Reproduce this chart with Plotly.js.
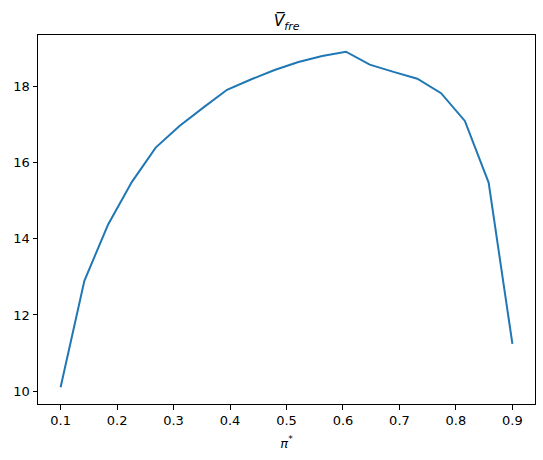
<!DOCTYPE html>
<html>
<head>
<meta charset="utf-8">
<script src="https://cdn.plot.ly/plotly-3.0.1.min.js"></script>
<style>
  html, body { margin: 0; padding: 0; background: #ffffff; }
  #chart { width: 543px; height: 460px; }
</style>
</head>
<body>
<div id="chart"></div>
<script>
  "use strict";

  // pi* values along the x axis
  var PI_STAR = [
    0.1, 0.1421, 0.1842, 0.2263, 0.2684, 0.3105, 0.3526, 0.3947, 0.4368, 0.4789,
    0.5211, 0.5632, 0.6053, 0.6474, 0.6895, 0.7316, 0.7737, 0.8158, 0.8579, 0.9
  ];

  // mean V_fre
  var V_FRE = [
    10.1, 12.9, 14.38, 15.5, 16.4, 16.97, 17.45, 17.92, 18.19, 18.44,
    18.65, 18.81, 18.92, 18.58, 18.39, 18.21, 17.83, 17.1, 15.48, 11.24
  ];

  var X_TICKS = [0.1, 0.2, 0.3, 0.4, 0.5, 0.6, 0.7, 0.8, 0.9];
  var Y_TICKS = [10, 12, 14, 16, 18];

  var FONT = 'DejaVu Sans, sans-serif';
  var LINE_COLOR = "#1f77b4";

  function axisBase() {
    return {
      showgrid: false,
      zeroline: false,
      showline: true,
      linecolor: "#000000",
      linewidth: 1,
      mirror: true,
      ticks: "outside",
      ticklen: 4.5,
      tickwidth: 1,
      tickcolor: "#000000",
      tickfont: { family: FONT, size: 13, color: "#000000" },
      fixedrange: true
    };
  }

  var xaxis = axisBase();
  xaxis.range = [0.06, 0.94];
  xaxis.tickvals = X_TICKS;
  xaxis.ticktext = X_TICKS.map(function (v) { return v.toFixed(1); });
  xaxis.title = {
    text: "<i>π</i><sup>*</sup>",
    font: { family: FONT, size: 13, color: "#000000" },
    standoff: 11
  };

  var yaxis = axisBase();
  yaxis.range = [9.66, 19.36];
  yaxis.tickvals = Y_TICKS;
  yaxis.ticktext = Y_TICKS.map(String);

  var traces = [{
    type: "scatter",
    mode: "lines",
    x: PI_STAR,
    y: V_FRE,
    line: { color: LINE_COLOR, width: 2 },
    hoverinfo: "skip"
  }];

  var layout = {
    width: 543,
    height: 460,
    paper_bgcolor: "#ffffff",
    plot_bgcolor: "#ffffff",
    font: { family: FONT, color: "#000000" },
    margin: { l: 38, r: 8, t: 35, b: 56, pad: 0 },
    title: {
      text: "<i>V\u0305</i><sub><i>fre</i></sub>",
      font: { family: FONT, size: 15.6, color: "#000000" },
      x: 0.5,
      xref: "paper",
      xanchor: "center",
      y: 1 - 21 / 460,
      yref: "container",
      yanchor: "middle"
    },
    xaxis: xaxis,
    yaxis: yaxis,
    showlegend: false
  };

  Plotly.newPlot("chart", traces, layout, { staticPlot: true, displayModeBar: false });
</script>
</body>
</html>
